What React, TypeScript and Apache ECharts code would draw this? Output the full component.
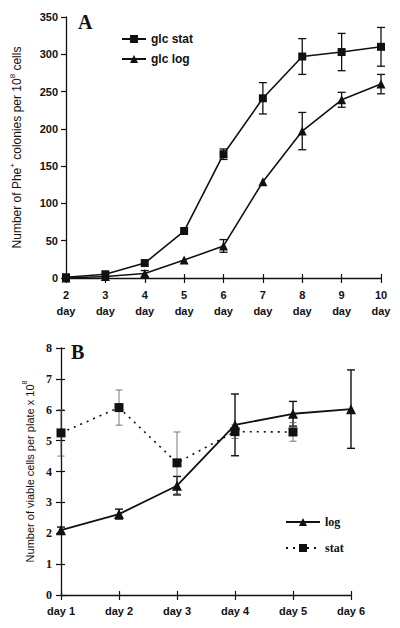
import { useEffect, useRef } from "react";
import * as echarts from "echarts";

const daysA = ["2", "3", "4", "5", "6", "7", "8", "9", "10"];
const glcStat = [1, 5, 20, 63, 166, 241, 297, 303, 310];
const glcStatErr = [0, 0, 0, 0, 7, 21, 24, 25, 26];
const glcLog = [0, 2, 6, 24, 43, 129, 197, 239, 260];
const glcLogErr = [0, 0, 4, 0, 8.5, 0, 25, 10, 13];

const daysB = ["day 1", "day 2", "day 3", "day 4", "day 5", "day 6"];
const logVals = [2.1, 2.62, 3.54, 5.51, 5.87, 6.02];
const logErr = [0.1, 0.16, 0.3, 1.0, 0.4, 1.27];
const statVals = [5.25, 6.07, 4.28, 5.29, 5.28];
const statErr = [0.75, 0.57, 1.0, 0.22, 0.3];

const SANS = "'Liberation Sans', Arial, sans-serif";
const SERIF = "'Liberation Serif', 'Times New Roman', serif";
const INK = "#111";

function errData(vals: number[], errs: number[]) {
  const out: number[][] = [];
  vals.forEach((v, i) => {
    if (errs[i] > 0) out.push([i, v - errs[i], v + errs[i]]);
  });
  return out;
}

function errRender(capW: number, lw: number, color: string) {
  return (_params: any, api: any) => {
    const x = api.value(0);
    const p1 = api.coord([x, api.value(1)]);
    const p2 = api.coord([x, api.value(2)]);
    const style = { stroke: color, lineWidth: lw };
    return {
      type: "group",
      children: [
        { type: "line", shape: { x1: p1[0], y1: p1[1], x2: p2[0], y2: p2[1] }, style },
        { type: "line", shape: { x1: p1[0] - capW, y1: p1[1], x2: p1[0] + capW, y2: p1[1] }, style },
        { type: "line", shape: { x1: p2[0] - capW, y1: p2[1], x2: p2[0] + capW, y2: p2[1] }, style },
      ],
    };
  };
}

export default function App() {
  const ref = useRef<HTMLDivElement>(null);
  useEffect(() => {
    if (!ref.current) return;
    const chart = echarts.init(ref.current, null, { renderer: "svg" });
    const axisLine = { show: true, onZero: false, lineStyle: { color: INK, width: 1.3 } };
    chart.setOption({
      animation: false,
      backgroundColor: "#fff",
      grid: [
        { left: 64, top: 17, width: 317, height: 261 },
        { left: 61, top: 348, width: 290, height: 247 },
      ],
      xAxis: [
        {
          gridIndex: 0, type: "category", data: daysA, boundaryGap: false, position: "bottom",
          axisLine, axisTick: { show: true, length: 5, lineStyle: { color: INK, width: 1.2 } },
          axisLabel: {
            margin: 9, color: INK, fontFamily: SANS, fontSize: 11, fontWeight: "bold", lineHeight: 16,
            formatter: (v: string) => `${v}\nday`,
          },
          splitLine: { show: false },
        },
        {
          gridIndex: 0, type: "category", data: daysA, boundaryGap: false, position: "bottom",
          axisLine: { show: false, onZero: false }, axisTick: { show: true, inside: true, length: 4, lineStyle: { color: INK, width: 1.2 } },
          axisLabel: { show: false }, splitLine: { show: false },
        },
        {
          gridIndex: 1, type: "category", data: daysB, boundaryGap: false, position: "bottom",
          axisLine, axisTick: { show: true, length: 5, lineStyle: { color: INK, width: 1.2 } },
          axisLabel: { margin: 10, color: INK, fontFamily: SANS, fontSize: 11, fontWeight: "bold" },
          splitLine: { show: false },
        },
        {
          gridIndex: 1, type: "category", data: daysB, boundaryGap: false, position: "bottom",
          axisLine: { show: false, onZero: false }, axisTick: { show: true, inside: true, length: 4, lineStyle: { color: INK, width: 1.2 } },
          axisLabel: { show: false }, splitLine: { show: false },
        },
      ],
      yAxis: [
        {
          gridIndex: 0, type: "value", min: 0, max: 350, interval: 50, position: "left",
          axisLine, axisTick: { show: true, length: 5, lineStyle: { color: INK, width: 1.2 } },
          axisLabel: { margin: 8, color: INK, fontFamily: SANS, fontSize: 11, fontWeight: "bold" },
          splitLine: { show: false },
          name: "{a|Number of Phe}{s|+}{a| colonies per 10}{s|8}{a| cells}",
          nameLocation: "middle", nameGap: 43,
          nameTextStyle: {
            rich: {
              a: { fontFamily: SANS, fontSize: 12, color: INK, lineHeight: 15, verticalAlign: "bottom" },
              s: { fontFamily: SANS, fontSize: 8, color: INK, lineHeight: 15, verticalAlign: "top" },
            },
          },
        },
        {
          gridIndex: 1, type: "value", min: 0, max: 8, interval: 1, position: "left",
          axisLine, axisTick: { show: true, length: 5, lineStyle: { color: INK, width: 1.2 } },
          axisLabel: { margin: 9, color: INK, fontFamily: SERIF, fontSize: 12, fontWeight: "bold" },
          splitLine: { show: false },
          name: "{a|Number of viable cells per plate x 10}{s|8}",
          nameLocation: "middle", nameGap: 24,
          nameTextStyle: {
            rich: {
              a: { fontFamily: SANS, fontSize: 11, color: INK, lineHeight: 14, verticalAlign: "bottom" },
              s: { fontFamily: SANS, fontSize: 7, color: INK, lineHeight: 14, verticalAlign: "top" },
            },
          },
        },
        {
          gridIndex: 1, type: "value", min: 0, max: 8, interval: 1, position: "left",
          axisLine: { show: false, onZero: false }, axisTick: { show: true, inside: true, length: 4, lineStyle: { color: INK, width: 1.2 } },
          axisLabel: { show: false }, splitLine: { show: false },
        },
      ],
      legend: [
        {
          data: ["glc stat", "glc log"], orient: "vertical", left: 116, top: 28,
          itemWidth: 24, itemHeight: 10, itemGap: 8,
          textStyle: { fontFamily: SANS, fontSize: 12, fontWeight: "bold", color: INK },
        },
        {
          data: ["log", "stat"], orient: "vertical", left: 280, top: 511,
          itemWidth: 34, itemHeight: 10, itemGap: 14,
          textStyle: { fontFamily: SERIF, fontSize: 12, fontWeight: "bold", color: INK },
        },
      ],
      graphic: [
        { type: "text", left: 78, top: 12, style: { text: "A", fontFamily: SERIF, fontSize: 20, fontWeight: "bold", fill: INK } },
        { type: "text", left: 71, top: 342, style: { text: "B", fontFamily: SERIF, fontSize: 20, fontWeight: "bold", fill: INK } },
      ],
      series: [
        {
          type: "custom", xAxisIndex: 0, yAxisIndex: 0, z: 1, silent: true,
          renderItem: errRender(4, 1.3, INK), data: errData(glcStat, glcStatErr), encode: { x: 0, y: [1, 2] },
        },
        {
          type: "custom", xAxisIndex: 0, yAxisIndex: 0, z: 1, silent: true,
          renderItem: errRender(4, 1.3, INK), data: errData(glcLog, glcLogErr), encode: { x: 0, y: [1, 2] },
        },
        {
          name: "glc stat", type: "line", xAxisIndex: 0, yAxisIndex: 0, data: glcStat, z: 3,
          symbol: "rect", symbolSize: 8, showAllSymbol: true,
          lineStyle: { color: INK, width: 1.6 }, itemStyle: { color: INK },
        },
        {
          name: "glc log", type: "line", xAxisIndex: 0, yAxisIndex: 0, data: glcLog, z: 3,
          symbol: "triangle", symbolSize: 9, showAllSymbol: true,
          lineStyle: { color: INK, width: 1.6 }, itemStyle: { color: INK },
        },
        {
          type: "custom", xAxisIndex: 2, yAxisIndex: 1, z: 1, silent: true,
          renderItem: errRender(4, 1.4, INK), data: errData(logVals, logErr), encode: { x: 0, y: [1, 2] },
        },
        {
          type: "custom", xAxisIndex: 2, yAxisIndex: 1, z: 1, silent: true,
          renderItem: errRender(3.5, 0.8, "#555"), data: errData(statVals, statErr), encode: { x: 0, y: [1, 2] },
        },
        {
          name: "log", type: "line", xAxisIndex: 2, yAxisIndex: 1, data: logVals, z: 3,
          symbol: "triangle", symbolSize: 10, showAllSymbol: true,
          lineStyle: { color: INK, width: 1.8 }, itemStyle: { color: INK },
        },
        {
          name: "stat", type: "line", xAxisIndex: 2, yAxisIndex: 1, data: statVals, z: 3,
          symbol: "rect", symbolSize: 9, showAllSymbol: true,
          lineStyle: { color: INK, width: 1.6, type: [2, 5] }, itemStyle: { color: INK },
        },
      ],
    });
    return () => chart.dispose();
  }, []);
  return <div ref={ref} style={{ width: 400, height: 628, position: "absolute", left: 0, top: 0 }} />;
}
